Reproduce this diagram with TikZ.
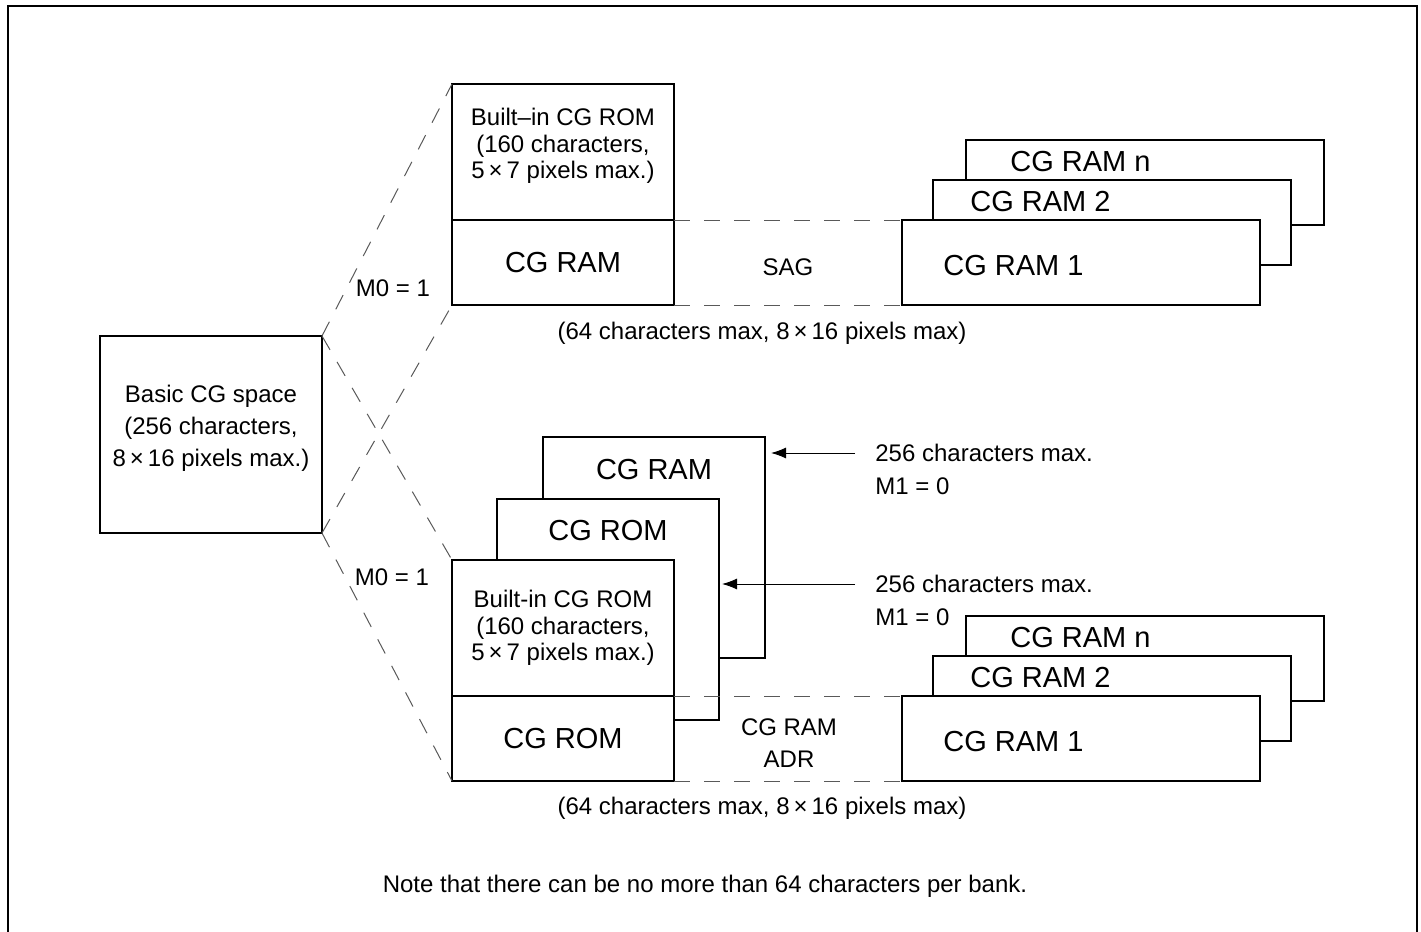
\documentclass[tikz,border=0pt]{standalone}
\usepackage{fontspec}
\setmainfont{Liberation Sans}
\usetikzlibrary{arrows.meta,positioning}
\newcommand{\bigsz}{\fontsize{14.5}{17}\selectfont}
\newcommand{\smallsz}{\fontsize{12}{13.3}\selectfont}
\newcommand{\widesz}{\fontsize{12}{16}\selectfont}

\begin{document}
\begin{tikzpicture}[x=0.5pt,y=-0.5pt]
    \tikzset{box/.style={draw,line width=0.9pt,fill=white,inner sep=0pt,outer sep=0pt,anchor=north west},
      sq/.style={box,minimum width=111pt,minimum height=110.5pt},
      half/.style={box,minimum width=111pt,minimum height=68pt},
      low/.style={box,minimum width=111pt,minimum height=42.5pt,font=\bigsz},
      card/.style={box,minimum width=179pt,minimum height=42.5pt},
      txt/.style={inner sep=0pt,font=\smallsz,align=center},
      bigtxt/.style={inner sep=0pt,font=\bigsz},
      guide/.style={draw=black!65,line width=0.5pt,dash pattern=on 8pt off 7pt},
      ptr/.style={-{Latex[length=7.5pt,width=5.5pt]},line width=0.5pt}}
    \useasboundingbox (0,0) rectangle (1421,932);
    \draw[line width=1.3pt] (8,960) -- (8,6) -- (1417,6) -- (1417,960);

    \node[box,minimum width=111pt,minimum height=98.5pt] (basic) at (100,336) {};
    \node[txt,font=\widesz] (basiclbl) at ([yshift=3.25pt]basic.center) {Basic CG space\\(256 characters,\\8\,×\,16 pixels max.)};

    \node[half] (rom) at (452,84) {};
    \node[txt] (romlbl) at ([yshift=3pt]rom.center) {Built–in CG ROM\\(160 characters,\\5\,×\,7 pixels max.)};
    \node[low,below=0pt of rom] (ram) {CG RAM};

    \node[card] (ramn) at (966,140) {};
    \node[bigtxt,anchor=west] (ramnlbl) at ([xshift=22pt,yshift=-11pt]ramn.north west) {CG RAM n};
    \node[card] (ramtwo) at (933,180) {};
    \node[bigtxt,anchor=west] (ramtwolbl) at ([xshift=18.5pt,yshift=-11pt]ramtwo.north west) {CG RAM 2};
    \node[card] (ramone) at (902,220) {};
    \node[bigtxt,anchor=west] (ramonelbl) at ([xshift=20.5pt,yshift=-1.5pt]ramone.west) {CG RAM 1};
    \draw[guide] (ram.north east) -- (ramone.north west);
    \draw[guide] (ram.south east) -- (ramone.south west);
    \node[txt] (sag) at (788,267) {SAG};
    \node[txt] (capa) at (762,333) {(64 characters max, 8\,×\,16 pixels max)};

    \node[sq] (bram) at (543,437) {};
    \node[bigtxt] (bramlbl) at ([yshift=-16.5pt]bram.north) {CG RAM};
    \node[sq] (bmid) at (497,499) {};
    \node[bigtxt] (bmidlbl) at ([yshift=-16pt]bmid.north) {CG ROM};
    \node[half,align=center,font=\smallsz] (brom) at (452,560) {Built-in CG ROM\\(160 characters,\\5\,×\,7 pixels max.)};
    \node[low,below=0pt of brom] (bromlow) {CG ROM};

    \node[card] (bramn) at (966,616) {};
    \node[bigtxt,anchor=west] (bramnlbl) at ([xshift=22pt,yshift=-11pt]bramn.north west) {CG RAM n};
    \node[card] (bramtwo) at (933,656) {};
    \node[bigtxt,anchor=west] (bramtwolbl) at ([xshift=18.5pt,yshift=-11pt]bramtwo.north west) {CG RAM 2};
    \node[card] (bramone) at (902,696) {};
    \node[bigtxt,anchor=west] (bramonelbl) at ([xshift=20.5pt,yshift=-1.5pt]bramone.west) {CG RAM 1};
    \draw[guide] (bromlow.north east) -- (bramone.north west);
    \draw[guide] (bromlow.south east) -- (bramone.south west);
    \node[txt,font=\widesz] (adr) at (789,743) {CG RAM\\ADR};
    \node[txt] (capb) at (762,808) {(64 characters max, 8\,×\,16 pixels max)};

    \node[txt,anchor=west] (lima) at (875,453) {256 characters max.};
    \node[txt,anchor=west] (mona) at (875,486) {M1 = 0};
    \node[txt,anchor=west] (limb) at (875,584) {256 characters max.};
    \node[txt,anchor=west] (monb) at (875,617) {M1 = 0};
    \draw[ptr] ([xshift=-10pt]lima.west) -- ([xshift=3pt]lima.west -| bram.east);
    \draw[ptr] ([xshift=-10pt]limb.west) -- ([xshift=1.5pt]limb.west -| bmid.east);

    \draw[guide] (basic.north east) -- (rom.north west);
    \draw[guide] (basic.south east) -- (ram.south west);
    \draw[guide] (basic.north east) -- (brom.north west);
    \draw[guide] (basic.south east) -- (bromlow.south west);
    \node[txt] (mza) at (393,288) {M0 = 1};
    \node[txt] (mzb) at (392,577) {M0 = 1};

    \node[txt] (note) at (705,886) {Note that there can be no more than 64 characters per bank.};
  \end{tikzpicture}
\end{document}
